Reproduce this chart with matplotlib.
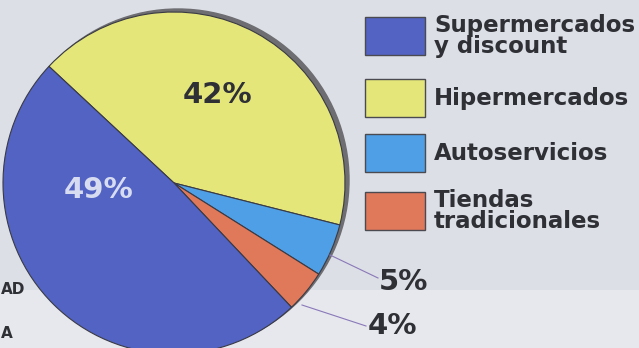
import matplotlib
matplotlib.use("Agg")
import matplotlib.pyplot as plt
from matplotlib.patches import Circle, Rectangle

# data
categories = ["Hipermercados", "Autoservicios", "Tiendas\ntradicionales", "Supermercados\ny discount"]
shares = [42, 5, 4, 49]
labels = ["42%", "5%", "4%", "49%"]
colors = ["#e4e67a", "#4f9fe6", "#e0785a", "#5263c4"]
legend_order = [3, 0, 1, 2]

BG = "#dcdfe6"
INK = "#2f2f36"

fig = plt.figure(figsize=(6.39, 3.48), dpi=100, facecolor=BG)
ax = fig.add_axes([0, 0, 1, 1], facecolor=BG)

cx, cy, r = 174, 165, 171

# lighter band of the page below
ax.add_patch(Rectangle((0, 0), 639, 58, color="#e6e8ee", zorder=0, lw=0))

# dark rim / shadow behind the pie
ax.add_patch(Circle((cx + 4, cy + 3), r, color="#6d6d72", zorder=1))

wedges, _ = ax.pie(
    shares, colors=colors, startangle=137, counterclock=False,
    center=(cx, cy), radius=r, frame=True,
    wedgeprops=dict(edgecolor="#3a3a44", linewidth=0.8),
)
for w in wedges:
    w.set_zorder(2)

ax.text(217, 253, labels[0], fontsize=21, fontweight="bold", color=INK,
        ha="center", va="center", zorder=3)
ax.text(99, 158, labels[3], fontsize=21, fontweight="bold", color="#d8dcf0",
        ha="center", va="center", zorder=3)

# leader lines for the small slices
ax.plot([330, 378], [93, 70], color="#8a78b8", lw=0.8, zorder=3)
ax.plot([302, 366], [43, 22], color="#8a78b8", lw=0.8, zorder=3)
ax.text(379, 66, labels[1], fontsize=21, fontweight="bold", color=INK,
        ha="left", va="center", zorder=3)
ax.text(368, 22, labels[2], fontsize=21, fontweight="bold", color=INK,
        ha="left", va="center", zorder=3)

# legend
box_y = [293, 231, 176, 118]
for y, i in zip(box_y, legend_order):
    ax.add_patch(Rectangle((365, y), 60, 38, facecolor=colors[i],
                           edgecolor="#4a4a50", lw=1.0, zorder=3))
    ax.text(434, y + 19, categories[i], fontsize=16.5, fontweight="bold",
            color=INK, ha="left", va="center", linespacing=0.92, zorder=3)

# fragments of neighbouring text at the page edge
ax.text(1, 58, "AD", fontsize=11, fontweight="bold", color=INK,
        ha="left", va="center", zorder=3)
ax.text(1, 14, "A", fontsize=11, fontweight="bold", color=INK,
        ha="left", va="center", zorder=3)

ax.set_xlim(0, 639)
ax.set_ylim(0, 348)
ax.set_aspect("auto")
ax.axis("off")

fig.savefig("out.png", dpi=100, facecolor=BG)
